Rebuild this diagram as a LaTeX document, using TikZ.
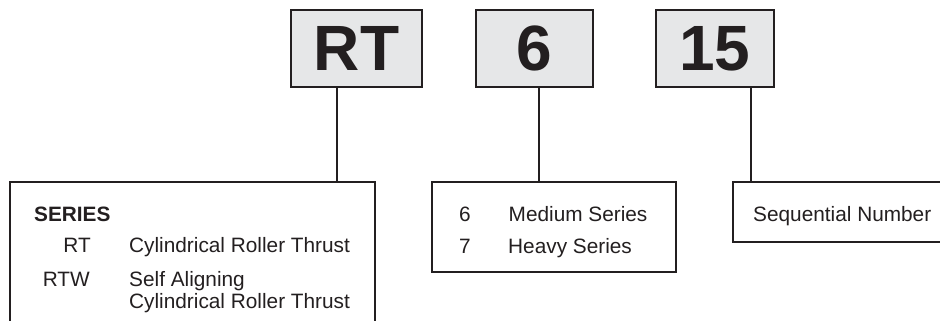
\documentclass[tikz,border=0pt]{standalone}
\usepackage{fontspec}
\setmainfont{Liberation Sans}
\definecolor{ink}{HTML}{231F20}
\definecolor{boxgray}{HTML}{E6E7E8}
\tikzset{
  codebox/.style={draw=ink, fill=boxgray, line width=2bp, rectangle, inner sep=0pt,
    minimum width=#1, minimum height=77bp,
    font=\fontsize{64bp}{64bp}\selectfont\bfseries, text=ink},
  infobox/.style={draw=ink, line width=2bp, rectangle, inner sep=0pt, anchor=north west},
  txt/.style={inner sep=0pt, text=ink, font=\fontsize{20.8bp}{25bp}\selectfont},
  conn/.style={draw=ink, line width=2bp},
}
\begin{document}
\begin{tikzpicture}[x=1bp,y=-1bp]
\clip (0,0) rectangle (940,320);
\fill[white] (0,0) rectangle (940,320);
% code boxes
\node[codebox=131bp] (rt) at (356.5,48.5) {RT};
\node[codebox=117bp] (six) at (534.5,48.5) {6};
\node[codebox=118bp] (fif) at (715,48.5) {15};
% info boxes
\node[infobox, minimum width=365bp, minimum height=170bp] (series) at (9,181) {};
\node[infobox, minimum width=244bp, minimum height=90bp] (sizes) at (431,181) {};
\node[infobox, minimum width=240bp, minimum height=60bp] (seq) at (732,181) {};
% connectors
\coordinate (c1) at (337,0);
\coordinate (c2) at (539,0);
\coordinate (c3) at (751,0);
\draw[conn] (rt.south -| c1) -- (series.north -| c1);
\draw[conn] (six.south -| c2) -- (sizes.north -| c2);
\draw[conn] (fif.south -| c3) -- (seq.north -| c3);
% series texts
\node[txt, anchor=base west, font=\fontsize{20.8bp}{25bp}\selectfont\bfseries] (sert) at (34,221) {SERIES};
\node[txt, anchor=base east] (rtc) at (91,252) {RT};
\node[txt, anchor=base west] (rtd) at (129,252) {Cylindrical Roller Thrust};
\node[txt, anchor=base east] (rtwc) at (90,286) {RTW};
\node[txt, anchor=base west] (rtwd) at (129,286) {Self Aligning};
\node[txt, anchor=base west] (rtwe) at (129,308) {Cylindrical Roller Thrust};
% sizes texts
\node[txt, anchor=base west] (s6) at (459,221) {6};
\node[txt, anchor=base west] (s6d) at (508.5,221) {Medium Series};
\node[txt, anchor=base west] (s7) at (459,253) {7};
\node[txt, anchor=base west] (s7d) at (508,253) {Heavy Series};
% sequential
\node[txt, anchor=base west] (seqt) at (753,221) {Sequential Number};
\end{tikzpicture}
\end{document}
